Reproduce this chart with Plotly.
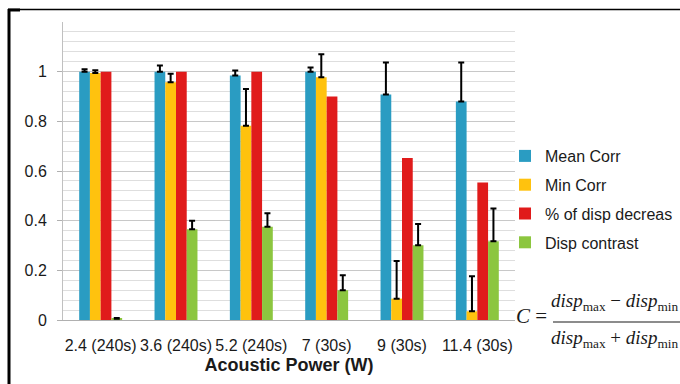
import plotly.graph_objects as go

categories = ["2.4 (240s)", "3.6 (240s)", "5.2 (240s)", "7 (30s)", "9 (30s)", "11.4 (30s)"]
mean_corr = [1.0, 1.0, 0.985, 1.0, 0.908, 0.880]
mean_corr_top = [1.01, 1.025, 1.005, 1.017, 1.037, 1.037]
min_corr = [0.995, 0.957, 0.782, 0.978, 0.086, 0.035]
min_corr_top = [1.006, 0.992, 0.930, 1.070, 0.238, 0.176]
pct_decrease = [1.0, 1.0, 1.0, 0.90, 0.652, 0.554]
disp_contrast = [0.005, 0.365, 0.376, 0.12, 0.301, 0.317]
disp_contrast_top = [0.008, 0.400, 0.430, 0.180, 0.387, 0.449]

series = [
    ("Mean Corr", mean_corr, mean_corr_top, "#2a9cc2"),
    ("Min Corr", min_corr, min_corr_top, "#ffc20e"),
    ("% of disp decreas", pct_decrease, None, "#e01b1b"),
    ("Disp contrast", disp_contrast, disp_contrast_top, "#8cc63f"),
]

fig = go.Figure()
for i, (name, vals, tops, color) in enumerate(series):
    kw = {}
    if tops is not None:
        kw["error_y"] = dict(type="data", symmetric=False,
                             array=[t - v for t, v in zip(tops, vals)],
                             arrayminus=[0] * len(vals),
                             color="black", thickness=2, width=3)
    fig.add_trace(go.Bar(x=categories, y=vals, name=name, marker_color=color,
                         marker_line_width=0, legendgroup=str(i), **kw))

PW = 452.0
PH = 298.0
def px(x):  # screen x -> paper x
    return (x - 63) / PW
def py(y):  # screen y -> paper y
    return (320 - y) / PH

fig.update_layout(
    width=680, height=384,
    margin=dict(l=63, r=165, t=22, b=64, autoexpand=False),
    paper_bgcolor="white", plot_bgcolor="white",
    barmode="group", bargap=0.43, bargroupgap=0.0,
    font=dict(family="Liberation Sans, Arial, sans-serif", color="#1a1a1a"),
    showlegend=True,
    legend=dict(x=px(505), y=py(139), xanchor="left", yanchor="top",
                font=dict(size=16), tracegroupgap=5, itemwidth=30,
                bgcolor="rgba(0,0,0,0)"),
    xaxis=dict(tickfont=dict(size=16), showgrid=False, showline=True,
               linecolor="#b0b0b0", linewidth=1, ticks="", ticklabelstandoff=11,
               title=dict(text="<b>Acoustic Power (W)</b>", font=dict(size=18), standoff=5)),
    yaxis=dict(range=[0, 1.2], tickvals=[0, 0.2, 0.4, 0.6, 0.8, 1],
               ticktext=["0", "0.2", "0.4", "0.6", "0.8", "1"],
               tickfont=dict(size=16), showgrid=True, gridcolor="#c8c8c8",
               gridwidth=1, zeroline=False, showline=True, linecolor="#c0c0c0",
               ticks="outside", ticklen=5, tickcolor="#b0b0b0",
               ticklabelstandoff=7,
               minor=dict(dtick=0.04, showgrid=True, gridcolor="#dedede", gridwidth=1)),
)

# Frame lines
fig.add_shape(type="line", xref="paper", yref="paper", x0=px(8), x1=px(680), y0=py(9.5), y1=py(9.5),
              line=dict(color="black", width=1.5))
fig.add_shape(type="line", xref="paper", yref="paper", x0=px(9), x1=px(9), y0=py(384), y1=py(9),
              line=dict(color="black", width=3))
fig.add_shape(type="line", xref="paper", yref="paper", x0=px(8), x1=px(20), y0=py(10), y1=py(10),
              line=dict(color="black", width=3))

# Formula
serif = "Liberation Serif, Times New Roman, serif"
fig.add_annotation(xref="paper", yref="paper", x=px(549), y=py(316),
                   xanchor="right", yanchor="middle", showarrow=False,
                   text="<i>C</i> =", font=dict(family=serif, size=21, color="#1a1a1a"))
fig.add_annotation(xref="paper", yref="paper", x=px(615), y=py(302),
                   xanchor="center", yanchor="middle", showarrow=False,
                   text="<i>disp</i><sub>max</sub> − <i>disp</i><sub>min</sub>",
                   font=dict(family=serif, size=19, color="#1a1a1a"))
fig.add_annotation(xref="paper", yref="paper", x=px(615), y=py(339),
                   xanchor="center", yanchor="middle", showarrow=False,
                   text="<i>disp</i><sub>max</sub> + <i>disp</i><sub>min</sub>",
                   font=dict(family=serif, size=19, color="#1a1a1a"))
fig.add_shape(type="line", xref="paper", yref="paper", x0=px(553), x1=px(680),
              y0=py(322), y1=py(322), line=dict(color="#1a1a1a", width=1.2))

fig.write_html("out.html",
               config={"displayModeBar": False},
               post_script="document.documentElement.style.overflow='hidden';"
                           "document.body.style.margin='0';document.body.style.overflow='hidden';")
